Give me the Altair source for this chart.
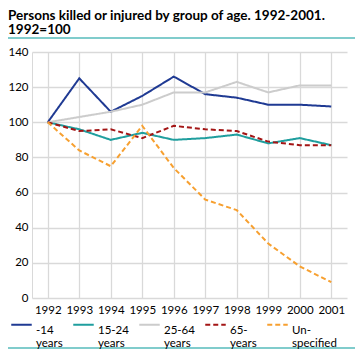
import altair as alt
import pandas as pd

years = ["1992", "1993", "1994", "1995", "1996", "1997", "1998", "1999", "2000", "2001"]
series_names = ["-14 years", "15-24 years", "25-64 years", "65- years", "Un-specified"]
v_14 = [100, 125, 106, 115, 126, 116, 114, 110, 110, 109]
v_15_24 = [100, 96, 90, 94, 90, 91, 93, 88, 91, 87]
v_25_64 = [100, 103, 106, 110, 117, 117, 123, 117, 121, 121]
v_65 = [100, 95, 96, 91, 98, 96, 95, 89, 87, 87]
v_unspec = [100, 84, 75, 98, 74, 56, 50, 31, 18, 9]
colors = ["#1f3a93", "#1f9e9e", "#cccccc", "#a31515", "#f7a030"]
dashes = [[1, 0], [1, 0], [1, 0], [5, 3], [5, 3]]

rows = []
for name, vals in zip(series_names, [v_14, v_15_24, v_25_64, v_65, v_unspec]):
    for y, v in zip(years, vals):
        rows.append({"year": y, "value": v, "group": name})
df = pd.DataFrame(rows)

FONT = "Lato"

lines = alt.Chart(df).mark_line(strokeWidth=2).encode(
    x=alt.X("year:O", sort=years, title=None,
            scale=alt.Scale(type="point", padding=0.5),
            axis=alt.Axis(grid=True, ticks=False, domain=False, labelAngle=0,
                          labelPadding=6, gridColor="#d9d9d9", gridWidth=1.3)),
    y=alt.Y("value:Q", title=None,
            scale=alt.Scale(domain=[0, 140], nice=False),
            axis=alt.Axis(values=[0, 20, 40, 60, 80, 100, 120, 140], ticks=False,
                          domainColor="#d9d9d9", gridColor="#d9d9d9", gridWidth=1.3,
                          labelPadding=4)),
    color=alt.Color("group:N", sort=series_names,
                    scale=alt.Scale(domain=series_names, range=colors),
                    legend=alt.Legend(
                        title=None, orient="none", direction="horizontal", columns=5,
                        legendX=-22, legendY=261,
                        symbolType="stroke", symbolStrokeWidth=2, symbolSize=420,
                        columnPadding=6, labelOffset=3,
                        labelBaseline="top",
                        labelExpr="datum.label == 'Un-specified' ? ['Un-', 'specified'] : split(datum.label, ' ')",
                        labelFontSize=11.5, labelFont=FONT, labelColor="#000000",
                        labelLimit=200)),
    strokeDash=alt.StrokeDash("group:N", sort=series_names,
                              scale=alt.Scale(domain=series_names, range=dashes),
                              legend=None),
)

rule_top = alt.Chart(df).mark_rule(color="#80cccc", strokeWidth=2).encode(
    x=alt.value(-32), x2=alt.value(323), y=alt.value(-14))
rule_bottom = alt.Chart(df).mark_rule(color="#80cccc", strokeWidth=2).encode(
    x=alt.value(-32), x2=alt.value(323), y=alt.value(296))

chart = alt.layer(lines, rule_top, rule_bottom).properties(
    width=315, height=246,
    padding={"left": 24, "top": 44, "right": 8, "bottom": 58},
    autosize=alt.AutoSizeParams(type="none"),
    title=alt.TitleParams(
        text=["Persons killed or injured by group of age. 1992-2001.", "1992=100"],
        anchor="start", frame="group", dx=-24, offset=1,
        fontSize=13.5, fontWeight="bold", font=FONT, color="#000000", lineHeight=14),
).configure_axis(
    labelFont=FONT, labelFontSize=11.5, labelColor="#000000"
).configure_view(stroke=None)

chart.save("out.html", embed_options={"renderer": "svg", "actions": False})
